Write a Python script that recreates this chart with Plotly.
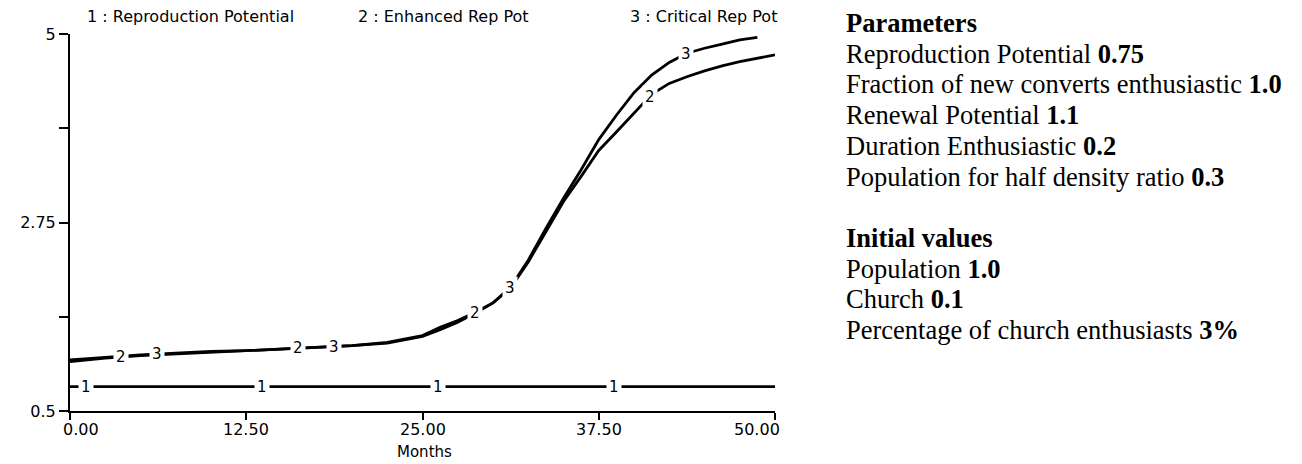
import numpy as np
import plotly.graph_objects as go

# ---------------- data ----------------
months = [0, 2.5, 5, 7.5, 10, 12.5, 15, 17.5, 20, 22.5, 25, 26.25, 27.5, 28.75, 30,
          31.25, 32.5, 33.75, 35, 36.25, 37.5, 38.75, 40, 41.25, 42.5, 43.75, 45,
          46.25, 47.5, 48.75, 50]
reproduction_potential = [0.79] * len(months)
enhanced_rep_pot = [1.09, 1.13, 1.16, 1.18, 1.20, 1.22, 1.24, 1.26, 1.28, 1.31, 1.39,
                    1.47, 1.56, 1.67, 1.79, 1.97, 2.28, 2.64, 3.00, 3.30, 3.61, 3.83,
                    4.06, 4.28, 4.41, 4.49, 4.56, 4.62, 4.67, 4.71, 4.75]
critical_rep_pot = [1.11, 1.14, 1.17, 1.19, 1.21, 1.22, 1.24, 1.26, 1.28, 1.32, 1.40,
                    1.50, 1.58, 1.68, 1.79, 1.98, 2.30, 2.68, 3.04, 3.38, 3.74, 4.03,
                    4.30, 4.51, 4.66, 4.77, 4.83, 4.88, 4.93, 4.96, None]

series_names = ["1 : Reproduction Potential", "2 : Enhanced Rep Pot", "3 : Critical Rep Pot"]
label_months_1 = [1.1, 13.6, 26.1, 38.6]
label_months_2 = [3.6, 16.2, 28.7, 41.1]
label_months_3 = [6.2, 18.7, 31.2, 43.7]

y_tickvals = [0.5, 1.625, 2.75, 3.875, 5]
y_ticktext = ["0.5", "", "2.75", "", "5"]
x_tickvals = [0, 12.5, 25, 37.5, 50]
x_ticktext = ["0.00", "12.50", "25.00", "37.50", "50.00"]
x_title = "Months"

param_lines = [
    ("<b>Parameters</b>", ""),
    ("Reproduction Potential", "0.75"),
    ("Fraction of new converts enthusiastic", "1.0"),
    ("Renewal Potential", "1.1"),
    ("Duration Enthusiastic", "0.2"),
    ("Population for half density ratio", "0.3"),
]
initial_lines = [
    ("<b>Initial values</b>", ""),
    ("Population", "1.0"),
    ("Church", "0.1"),
    ("Percentage of church enthusiasts", "3%"),
]

# ---------------- layout geometry ----------------
# page body has an 8px margin, so the figure is offset by 8px
OFF = 8
W, H = 1302 - OFF, 464 - OFF
PL, PR, PT, PB = 60, 775, 34, 411          # desired plot box in window pixels
L, T = PL - OFF, PT - OFF
R = W - (PR - OFF)
B = H - (PB - OFF)
PW, PH = PR - PL, PB - PT


def px_x(px):
    return (px - PL) / PW


def px_y(py):
    return (PB - py) / PH


fig = go.Figure()
series = [reproduction_potential, enhanced_rep_pot, critical_rep_pot]
for name, vals in zip(series_names, series):
    fig.add_trace(go.Scatter(x=months, y=vals, mode="lines", name=name,
                             line=dict(color="black", width=2.8),
                             connectgaps=False, hoverinfo="skip"))

CH_FONT = "DejaVu Sans"
annotations = []


def interp_series(vals, m):
    xs = [x for x, v in zip(months, vals) if v is not None]
    vs = [v for v in vals if v is not None]
    return float(np.interp(m, xs, vs))


for lab, vals, lms in [("1", reproduction_potential, label_months_1),
                       ("2", enhanced_rep_pot, label_months_2),
                       ("3", critical_rep_pot, label_months_3)]:
    for m in lms:
        annotations.append(dict(x=m, y=interp_series(vals, m), xref="x", yref="y",
                                text=lab, showarrow=False, bgcolor="white",
                                borderpad=2,
                                font=dict(family=CH_FONT, size=15, color="black")))

# x tick labels (end labels kept inside the axis span, as in the original)
tick_font = dict(family=CH_FONT, size=16, color="black")
for i, (tv, tt) in enumerate(zip(x_tickvals, x_ticktext)):
    if i == 0:
        anchor, shift = "left", -9
    elif i == len(x_tickvals) - 1:
        anchor, shift = "right", 7
    else:
        anchor, shift = "center", 0
    annotations.append(dict(x=tv, y=px_y(430), xref="x", yref="paper", text=tt,
                            xanchor=anchor, yanchor="middle", xshift=shift,
                            showarrow=False, font=tick_font))
annotations.append(dict(x=px_x(420), y=px_y(452), xref="paper", yref="paper", text=x_title,
                        xanchor="center", yanchor="middle", showarrow=False,
                        font=dict(family=CH_FONT, size=15, color="black")))

# header series names
hdr_y = px_y(17)
hdr_font = dict(family=CH_FONT, size=16, color="black")
annotations.append(dict(x=px_x(75), y=hdr_y, xref="paper", yref="paper", text=series_names[0],
                        xanchor="left", yanchor="middle", showarrow=False, font=hdr_font))
annotations.append(dict(x=px_x(350), y=hdr_y, xref="paper", yref="paper", text=series_names[1],
                        xanchor="left", yanchor="middle", showarrow=False, font=hdr_font))
annotations.append(dict(x=px_x(779), y=hdr_y, xref="paper", yref="paper", text=series_names[2],
                        xanchor="right", yanchor="middle", showarrow=False, font=hdr_font))

# right-hand parameter text
TX = px_x(845)
line_gap = 30.7
start_center = 23
all_lines = param_lines + [None] + initial_lines
for i, item in enumerate(all_lines):
    if item is None:
        continue
    label, val = item
    txt = label + (" <b>" + val + "</b>" if val else "")
    annotations.append(dict(x=TX, y=px_y(start_center + i * line_gap), xref="paper", yref="paper",
                            text=txt, xanchor="left", yanchor="middle", showarrow=False,
                            font=dict(family="Liberation Serif", size=26.5, color="black")))

fig.update_layout(
    width=W, height=H,
    margin=dict(l=L, r=R, t=T, b=B, pad=0),
    paper_bgcolor="white", plot_bgcolor="white",
    showlegend=False,
    annotations=annotations,
    xaxis=dict(range=[0, 50], tickvals=x_tickvals, showticklabels=False,
               showgrid=False, zeroline=False, showline=True, linecolor="black", linewidth=2,
               ticks="outside", ticklen=7, tickwidth=2, tickcolor="black"),
    yaxis=dict(range=[0.5, 5], tickvals=y_tickvals, ticktext=y_ticktext,
               showgrid=False, zeroline=False, showline=True, linecolor="black", linewidth=2,
               ticks="outside", ticklen=9, tickwidth=2, tickcolor="black",
               tickfont=tick_font),
)

fig.write_html("out.html")
